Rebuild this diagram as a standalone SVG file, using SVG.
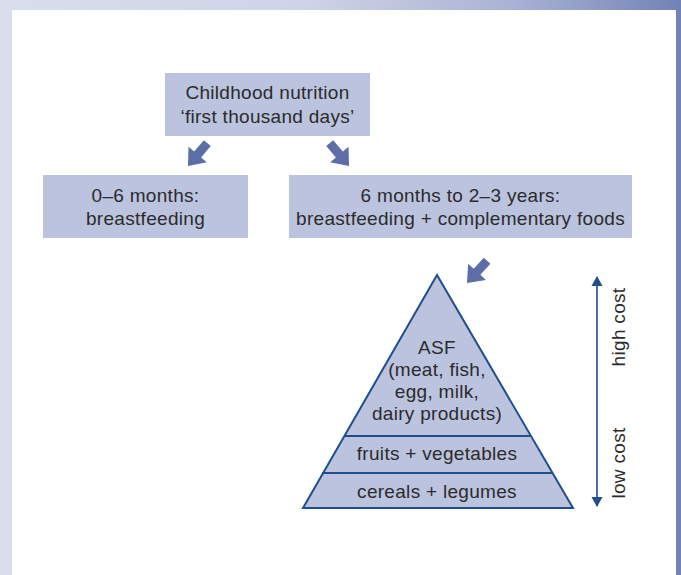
<svg xmlns="http://www.w3.org/2000/svg" width="681" height="575" viewBox="0 0 681 575">
<defs>
<linearGradient id="frame" x1="0" y1="0" x2="1" y2="0">
<stop offset="0" stop-color="#d9ddec"/>
<stop offset="0.45" stop-color="#cfd3e6"/>
<stop offset="0.75" stop-color="#aab3d4"/>
<stop offset="1" stop-color="#7183b5"/>
</linearGradient>
<marker id="ah" viewBox="0 0 10 16" refX="9" refY="8" markerWidth="10" markerHeight="16" markerUnits="userSpaceOnUse" orient="auto-start-reverse">
<path d="M0,2.5 L10,8 L0,13.5 Z" fill="#1f4e8c"/>
</marker>
<path id="blk" d="M-30,-4.5 L-15,-4.5 L-15,-12 L0,0 L-15,12 L-15,4.5 L-30,4.5 Z"/>
</defs>
<style>
.box{fill:#bcc3de}
.t{font-family:"Liberation Sans",Arial,sans-serif;font-size:19px;letter-spacing:0.3px;fill:#2b2b2b;text-anchor:middle}
.blk{fill:#5b6ea8}
.pyr{fill:#bcc3de;stroke:#1f4e8c;stroke-width:2;stroke-linejoin:miter}
</style>
<rect x="0" y="0" width="681" height="575" fill="url(#frame)"/>
<rect x="12" y="10" width="664" height="565" fill="#ffffff"/>

<g id="connectors">
<use href="#blk" class="blk" transform="translate(188,166) rotate(130)"/>
<use href="#blk" class="blk" transform="translate(349,166) rotate(50)"/>
<use href="#blk" class="blk" transform="translate(467,283) rotate(132)"/>
</g>

<g id="top">
<rect class="box" x="165" y="73" width="205" height="63"/>
<text class="t" x="267.5" y="99">Childhood nutrition</text>
<text class="t" x="267.5" y="123">‘first thousand days’</text>
</g>

<g id="left">
<rect class="box" x="43" y="175" width="205" height="63"/>
<text class="t" x="145.5" y="202">0–6 months:</text>
<text class="t" x="145.5" y="225">breastfeeding</text>
</g>

<g id="right">
<rect class="box" x="289" y="175" width="343" height="63"/>
<text class="t" x="460.5" y="202">6 months to 2–3 years:</text>
<text class="t" x="460.5" y="225">breastfeeding + complementary foods</text>
</g>

<g id="pyramid">
<polygon class="pyr" points="437,275 573,508 303,508"/>
<line x1="344" y1="436" x2="530" y2="436" stroke="#1f4e8c" stroke-width="2"/>
<line x1="322" y1="473" x2="552" y2="473" stroke="#1f4e8c" stroke-width="2"/>
<text class="t" x="437" y="354">ASF</text>
<text class="t" x="437" y="376">(meat, fish,</text>
<text class="t" x="437" y="398">egg, milk,</text>
<text class="t" x="437" y="420">dairy products)</text>
<text class="t" x="437" y="460">fruits + vegetables</text>
<text class="t" x="437" y="498">cereals + legumes</text>
</g>

<g id="cost">
<line x1="597" y1="277" x2="597" y2="506" stroke="#1f4e8c" stroke-width="1.6" marker-start="url(#ah)" marker-end="url(#ah)"/>
<text class="t" transform="translate(625,327) rotate(-90)">high cost</text>
<text class="t" transform="translate(625,463) rotate(-90)">low cost</text>
</g>
</svg>
